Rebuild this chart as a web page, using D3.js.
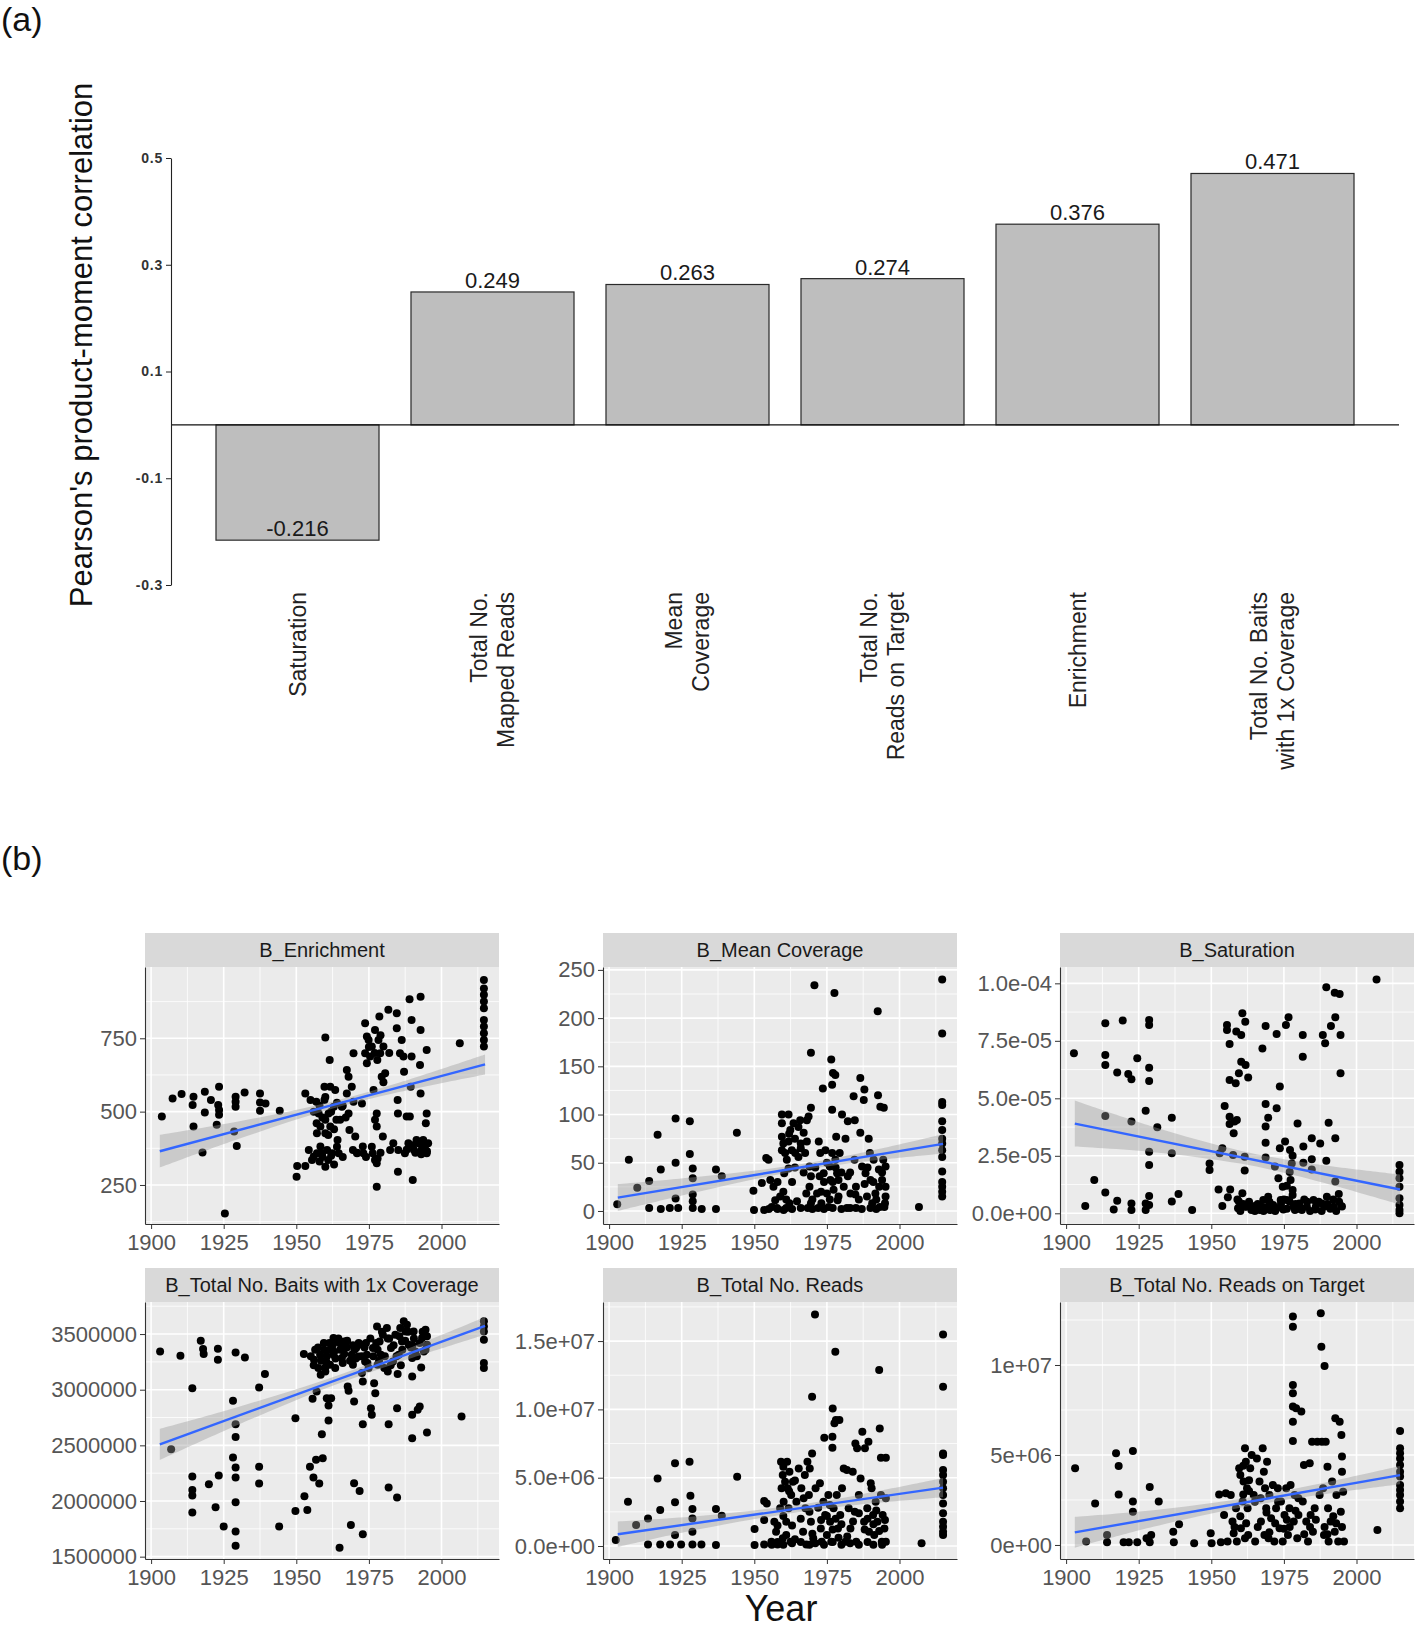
<!DOCTYPE html>
<html><head><meta charset="utf-8">
<script src="https://cdn.jsdelivr.net/npm/d3@7"></script>
<style>body{margin:0;background:#fff} svg{display:block} text{font-family:"Liberation Sans",Arial,Helvetica,sans-serif}</style>
</head><body>
<svg id="chart" width="1418" height="1629"></svg>
<script>
// ---------------- (a) data ----------------
const barCategories = ["Saturation","Total No.\nMapped Reads","Mean\nCoverage","Total No.\nReads on Target","Enrichment","Total No. Baits\nwith 1x Coverage"];
const barValues = [-0.216,0.249,0.263,0.274,0.376,0.471];
const barLabels = ["-0.216","0.249","0.263","0.274","0.376","0.471"];
const barTicks = [0.5,0.3,0.1,-0.1,-0.3];
const barTickLabels = ["0.5","0.3","0.1","-0.1","-0.3"];

// ---------------- (b) data ----------------
const yearTicks = [1900,1925,1950,1975,2000];
const yearMinor = [1912.5,1937.5,1962.5,1987.5,2012.5];
const fitYears = [1903,2015];
const bandYears = [1903,1930,1960,1985,2015];

const enrichmentPts = [[1903.7,483],[1907.4,545],[1910.5,560],[1914.6,551],[1914.3,523],[1914.6,449],[1918.5,568],[1918.5,497],[1917.7,361],[1920.6,540],[1923.4,585],[1923.1,523],[1923.4,506],[1923.4,489],[1922.6,455],[1925.4,153],[1928.6,432],[1929.1,551],[1929.1,534],[1929.1,517],[1929.5,383],[1932.2,565],[1937.5,562],[1937.5,531],[1937.5,503],[1939.4,528],[1944.3,503],
[1950.1,278],[1950.3,315],[1953.1,562],[1953.1,315],[1954.3,369],[1954.9,540],[1955.4,335],[1956,347],[1956.9,534],[1957.1,426],[1957.1,358],[1957.7,494],[1958.3,449],[1958.3,381],[1958.9,358],[1960,753],[1959.7,585],[1959.7,540],[1960,472],[1960,426],[1960,312],[1960.6,369],[1961.1,494],[1961.5,676],[1961.7,585],[1961.7,449],[1962.3,358],[1962.9,517],[1963.4,574],[1963.8,472],[1964.2,403],[1964.6,358],[1965.1,472],[1965.7,517],[1967.4,642],[1968,619],[1967.4,562],[1968,494],[1968.3,437],[1969.1,585],[1969.7,699],[1969.7,534],[1970.3,415],[1969.5,369],[1970.9,358],[1972.6,528],[1972.9,381],[1973.1,358],[1973.7,801],[1973.7,699],[1974.3,756],[1974.3,665],[1975.4,688],[1974.9,744],[1976,722],[1976.3,358],[1976.6,574],[1977.1,778],[1977.1,472],[1977.1,335],[1977.7,494],[1977.7,449],[1977.7,324],[1977.9,676],[1978.6,824],[1978.3,744],[1977.7,244],[1978.9,699],[1979.4,619],[1979.8,415],[1980,722],[1980.6,631],[1981.7,847],[1982.3,369],[1983.4,392],[1984.6,835],[1984.6,784],[1984.9,540],[1985,494],[1985.1,369],[1985,295],[1985.7,699],[1986.3,744],[1986.9,688],[1987.1,636],[1987.4,358],[1988,483],[1988.6,392],[1989,883],[1989.1,483],[1989.4,585],[1989.7,812],[1989.7,688],[1990.1,267],[1990.5,369],[1991.4,403],[1992,392],[1992.8,892],[1992.8,778],[1992.6,659],[1992.8,562],[1993.1,369],[1993.7,403],[1994.3,381],[1994.6,460],[1994.9,710],[1994.9,494],[1994.9,358],[1995.4,392],[2006.3,733],
[1956,500],[1957,460],[1958,520],[1959,480],[1960,550],[1961,420],[1962,500],[1963,440],[1964,530],[1958,330],[1959,345],[1961,335],[1962,350],[1963,320],[1964,380],[1966,345],[1966,520],[1967,480],[1971,360],[1974,345],[1976,380],[1978,340],[1979,360],[1988,370],[1990,385],[1991,360],[1993,355],[1994,375],[1995,365],[1993,390],[1975,720],[1977,700],[1979,760],[1980,600],[1982,700],
[2014.6,949],[2014.6,920],[2014.6,898],[2014.6,875],[2014.6,852],[2014.6,812],[2014.6,790],[2014.6,767],[2014.6,744],[2014.6,722]];

const meanCoveragePts = [[1902.8,7],[1906.8,53],[1909.7,24],[1913.8,31],[1913.8,3],[1916.7,79],[1917.8,43],[1917.8,2],[1920.9,3],[1922.9,96],[1922.9,50],[1922.9,13],[1923.8,3],[1927.8,93],[1927.8,59],[1928.8,44],[1928.8,34],[1928.8,17],[1928.8,3],[1928.8,10],[1931.9,2],[1936.8,43],[1936.8,2],[1938.8,36],[1944,81],[1949.7,21],[1949.9,1],[1952.6,29],[1953.4,1],[1954.1,55],[1954.9,53],[1955.5,32],[1956,4],[1956.6,25],[1957.2,11],[1957.8,3],[1958.9,15],[1959.5,100],[1959.5,91],[1959.5,77],[1959.5,63],[1960.1,1],[1960.3,39],[1960.6,60],[1961.2,53],[1961.8,100],[1961.8,72],[1961.8,44],[1962.1,8],[1962.4,84],[1962.9,63],[1963.5,91],[1964.1,60],[1964.7,10],[1965.2,87],[1965.2,56],[1965.8,94],[1967,81],[1967.5,60],[1967.9,18],[1968.1,94],[1968.1,72],[1968.4,3],[1968.7,98],[1969,46],[1969.5,107],[1969.5,164],[1969.5,36],[1969.5,8],[1970.7,234],[1971.6,18],[1972.2,72],[1972.5,36],[1972.7,60],[1973.1,8],[1973.6,127],[1973.9,39],[1974.5,63],[1975,18],[1975.6,4],[1976,46],[1976.2,32],[1976.5,157],[1976.8,131],[1976.8,105],[1976.8,60],[1977.1,143],[1977.3,22],[1977.6,226],[1977.9,141],[1977.9,53],[1978.2,77],[1978.5,39],[1978.7,11],[1979,32],[1979.4,60],[1980.2,100],[1980.8,25],[1981.4,75],[1981.9,3],[1982.2,93],[1982.2,36],[1983.1,18],[1984.2,119],[1984.5,53],[1984.6,94],[1984.8,17],[1985,3],[1986.5,138],[1986.5,81],[1987.1,46],[1987.7,115],[1987.9,126],[1988.3,39],[1988.8,15],[1989.4,75],[1989.8,60],[1990,32],[1990.6,8],[1991.1,53],[1991.7,18],[1992.5,207],[1992.6,120],[1992.9,43],[1993.2,4],[1993.4,108],[1994,32],[1994.4,53],[1994.6,107],[1994.8,4],[1995.2,46],[1995.2,25],[1995.2,15],[2006.7,4],
[1955,2],[1958,2],[1961,3],[1963,2],[1966,3],[1970,2],[1972,3],[1974,2],[1977,3],[1980,2],[1983,3],[1987,2],[1990,3],[1992,2],
[1958,30],[1960,20],[1961,12],[1963,30],[1964,45],[1966,70],[1967,40],[1969,25],[1970,12],[1971,45],[1973,20],[1974,30],[1975,50],[1976,12],[1977,30],[1978,45],[1979,15],[1980,40],[1983,40],[1985,25],[1986,12],[1988,28],[1989,45],[1991,30],[1992,12],[1993,25],[1994,40],[1995,8],[1960,70],[1962,80],[1964,75],[1966,65],
[2014.7,240],[2014.7,184],[2014.7,113],[2014.7,110],[2014.7,93],[2014.7,84],[2014.7,75],[2014.7,70],[2014.7,63],[2014.7,56],[2014.7,41],[2014.7,30],[2014.7,25],[2014.7,20],[2014.7,15]];

// saturation in units of 1e-5
const saturationPtsE5 = [[1902.7,6.96],[1906.6,0.32],[1909.7,1.45],[1913.5,8.26],[1913.5,6.88],[1913.5,6.45],[1913.5,4.23],[1913.5,0.9],[1916.4,0.17],[1917.6,6.12],[1917.6,0.55],[1919.5,8.38],[1921.4,6.06],[1922.5,5.83],[1922.5,3.99],[1922.5,0.43],[1922.5,0.14],[1924.5,6.74],[1927.4,4.46],[1927.4,0.43],[1927.4,0.14],[1928.6,8.41],[1928.6,8.19],[1928.6,6.33],[1928.6,5.75],[1928.6,2.68],[1928.6,2.10],[1928.6,0.75],[1928.6,0.36],[1931.4,3.74],[1936.4,4.16],[1936.4,2.61],[1936.4,0.51],[1938.7,0.84],[1943.4,0.14],[1949.4,2.17],[1949.4,1.88],[1952.5,1.04],[1952.9,2.61],[1953.8,2.83],[1953.8,0.32],[1954.6,4.67],[1955.4,8.19],[1955.4,7.97],[1955.7,0.7],[1956.3,7.36],[1956.3,5.80],[1956.3,4.20],[1956.3,3.88],[1956.5,1.04],[1957.5,2.54],[1957.7,3.48],[1958,3.99],[1958.4,5.65],[1958.6,7.90],[1958.8,4.06],[1959.2,0.22],[1959.5,6.09],[1959.5,0.51],[1960.3,7.75],[1960.3,6.59],[1960.7,8.70],[1960.7,0.87],[1961.5,1.86],[1961.5,2.46],[1961.7,8.33],[1961.8,6.45],[1961.8,0.29],[1962.7,5.90],[1963.8,0.14],[1965,0.32],[1966.7,0.14],[1967.6,7.17],[1967.9,0.58],[1968.7,8.14],[1968.7,4.75],[1968.7,3.77],[1968.7,3.07],[1968.7,2.43],[1969,0.26],[1969.6,4.16],[1969.6,0.72],[1970.2,0.14],[1971.3,0.36],[1971.9,2.03],[1972.5,7.80],[1972.5,4.57],[1972.5,0.22],[1973.1,1.52],[1973.6,5.51],[1973.6,2.83],[1973.9,0.58],[1974.6,1.16],[1974.8,0.17],[1975.4,3.12],[1975.7,8.19],[1976,0.58],[1976.6,8.52],[1977.1,2.75],[1977.3,1.45],[1977.7,2.17],[1978,1.01],[1978.3,0.29],[1978.8,0.14],[1979.7,3.91],[1980.3,0.43],[1981.2,0.14],[1981.5,7.75],[1981.5,6.81],[1981.7,2.90],[1981.7,2.20],[1982.9,0.29],[1984.6,3.26],[1984.6,2.35],[1984.6,1.91],[1985.2,0.58],[1985.8,0.17],[1987.5,3.04],[1988.1,0.43],[1988.4,7.75],[1989.2,7.39],[1989.6,9.83],[1989.6,2.29],[1989.8,0.72],[1990.4,3.94],[1991.2,8.14],[1992.1,0.29],[1992.5,9.59],[1992.7,8.52],[1992.7,3.26],[1992.7,1.38],[1993.9,0.84],[1994.2,9.54],[1994.5,7.75],[1994.5,6.09],[1994.7,0.32],[2006.9,10.17],
[1960,0.1],[1962,0.3],[1964,0.2],[1966,0.4],[1968,0.1],[1971,0.3],[1974,0.4],[1976,0.2],[1979,0.4],[1981,0.2],[1983,0.5],[1986,0.3],[1988,0.1],[1990,0.4],[1991,0.2],[1993,0.1],[1995,0.3],
[1959,0.6],[1961,0.4],[1963,0.5],[1965,0.1],[1967,0.3],[1970,0.5],[1972,0.1],[1975,0.6],[1977,0.5],[1978,0.8],[1980,0.2],[1982,0.6],[1984,0.1],[1987,0.5],[1989,0.3],[1992,0.6],[1994,0.5],[1976,1.2],[1977,1.8],[1978,2.5],
[2014.8,2.10],[2014.8,1.81],[2014.8,1.52],[2014.8,1.16],[2014.8,0.65],[2014.8,0.36],[2014.8,0.14],[2014.8,0]];

// baits in millions
const baitsPtsM = [[1903.1,3.344],[1906.9,2.466],[1910.1,3.305],[1914.2,3.014],[1914.2,2.220],[1914.2,2.100],[1914.2,2.049],[1914.2,1.896],[1917.1,3.440],[1917.9,3.365],[1918.1,3.320],[1919.9,2.151],[1922.2,1.944],[1923,3.368],[1923,3.269],[1923.3,2.229],[1925,1.770],[1928.2,2.900],[1929.1,3.335],[1929.1,2.690],[1929.1,2.576],[1928.2,2.391],[1929.1,2.301],[1929.1,2.211],[1929.1,1.989],[1929.1,1.725],[1929.1,1.599],[1932.3,3.290],[1937.2,3.020],[1937.2,2.307],[1937.2,2.157],[1939.2,3.140],[1944.1,1.770],[1949.7,2.744],[1949.7,1.911],[1952.8,2.043],[1952.6,3.320],[1953.8,1.920],[1954.7,2.307],[1955.6,2.918],[1955.9,2.211],[1956.1,3.269],[1956.5,3.359],[1956.8,2.370],[1957,2.984],[1957.6,3.194],[1957.9,2.157],[1958.2,3.314],[1958.4,3.134],[1958.8,2.600],[1959.1,2.385],[1959.6,3.359],[1960,3.164],[1960.3,3.254],[1960.5,2.924],[1961.1,2.858],[1961.1,2.723],[1961.4,3.419],[1961.6,3.224],[1962,2.924],[1962.8,3.464],[1962.8,3.314],[1963.4,3.194],[1964.2,3.428],[1964.9,1.581],[1965.1,3.359],[1965.7,3.284],[1966.5,3.434],[1967.4,3.380],[1967.7,3.029],[1968,2.990],[1968.8,1.785],[1969.1,3.314],[1969.5,3.224],[1969.9,2.160],[1969.9,2.894],[1970.6,3.374],[1971.4,3.299],[1971.8,2.091],[1972.6,3.404],[1972.6,3.149],[1972.9,3.074],[1972.9,1.701],[1972.9,2.690],[1973.7,3.254],[1974.3,3.314],[1974.9,3.194],[1975.7,2.834],[1976,2.774],[1976.4,3.374],[1976.8,3.059],[1977.2,2.969],[1977.8,3.569],[1978,3.224],[1978.7,3.434],[1979.1,3.314],[1979.8,3.494],[1980.3,3.194],[1981.2,3.554],[1981.5,3.164],[1981.8,2.690],[1981.8,2.121],[1982.6,3.374],[1983.3,3.254],[1984.1,3.494],[1984.7,2.834],[1984.7,2.031],[1984.9,3.140],[1985.3,3.314],[1985.8,3.554],[1986.4,3.434],[1987,3.614],[1987.6,3.524],[1988.1,3.584],[1988.7,3.404],[1989.9,3.284],[1989.9,3.119],[1989.9,2.774],[1989.9,2.564],[1990.4,3.524],[1991,3.344],[1991.8,2.819],[1992.5,2.849],[1993,3.200],[1993.3,3.464],[1993.9,3.344],[1994.5,3.539],[1995,2.615],[1995,3.404],[2006.9,2.759],
[1955,3.30],[1956,3.22],[1957.5,3.38],[1958.5,3.26],[1959.5,3.42],[1960.5,3.30],[1961.5,3.36],[1962.5,3.40],[1963.5,3.28],[1964.5,3.46],[1965.5,3.40],[1966.5,3.32],[1967.5,3.44],[1968.5,3.26],[1969.5,3.40],[1970.5,3.28],[1971.5,3.42],[1972.5,3.30],[1973.5,3.38],[1974.5,3.24],[1975.5,3.46],[1976.5,3.30],[1977.5,3.42],[1978.5,3.26],[1979.5,3.52],[1980.5,3.30],[1981.5,3.46],[1982.5,3.22],[1983.5,3.40],[1984.5,3.30],[1985.5,3.48],[1986.5,3.36],[1987.5,3.44],[1988.5,3.52],[1989.5,3.38],[1990.5,3.46],[1991.5,3.30],[1992.5,3.42],[1993.5,3.52],[1994.5,3.36],[1995,3.48],[1960,3.20],[1963,3.34],[1966,3.24],[1970,3.36],[1974,3.42],[1978,3.36],[1982,3.46],[1986,3.22],[1990,3.40],
[2014.6,3.614],[2014.6,3.569],[2014.6,3.524],[2014.6,3.449],[2014.6,3.239],[2014.6,3.194]];

// total reads in millions
const readsPtsM = [[1902.3,0.44],[1906.5,3.24],[1909.3,1.54],[1913.4,2.02],[1913.4,0.12],[1916.7,4.95],[1917.6,2.63],[1917.6,0.12],[1921,0.12],[1922.7,6.05],[1922.7,3.20],[1922.7,0.80],[1924.8,0.12],[1927.7,6.17],[1928,3.68],[1928.7,2.71],[1928.7,2.02],[1928.7,1.05],[1928.7,0.12],[1931.8,0.12],[1936.8,2.71],[1936.8,0.07],[1938.8,2.22],[1944.1,5.07],[1950.1,1.24],[1950.1,0.07],[1953.4,3.29],[1953.4,0.12],[1954.3,3.12],[1953.4,1.90],[1955.9,0.32],[1956.9,1.78],[1957.5,1.05],[1958,0.12],[1958.9,2.76],[1959.2,6.17],[1959.4,4.22],[1959.8,5.20],[1959.8,0.56],[1960.1,3.24],[1960.6,4.71],[1961,1.78],[1961.3,6.17],[1961.5,4.22],[1961.8,2.76],[1962.1,5.44],[1962.5,0.32],[1962.7,3.73],[1963.3,4.71],[1964.5,3.24],[1965.3,5.68],[1966.2,4.22],[1966.8,1.05],[1967.4,5.20],[1967.6,2.76],[1967.9,0.12],[1968.3,6.17],[1968.8,3.73],[1969.1,5.68],[1969.5,1.78],[1969.9,6.78],[1969.9,10.93],[1970.3,0.56],[1970.9,16.95],[1971.1,4.22],[1972.6,4.59],[1972.9,1.29],[1973.2,0.32],[1973.8,3.24],[1974.1,7.93],[1974.4,2.27],[1975,0.80],[1975.5,3.73],[1976.1,1.78],[1976.5,0.32],[1976.9,7.20],[1976.9,8.00],[1977,10.07],[1977.3,2.76],[1977.6,8.98],[1977.9,14.22],[1978.1,9.22],[1978.4,3.73],[1978.8,1.29],[1979.3,9.22],[1979.6,2.27],[1980.2,4.22],[1980.8,5.68],[1981.4,0.32],[1981.9,5.56],[1982.5,2.76],[1983.1,1.29],[1983.9,5.44],[1984.6,2.51],[1984.8,7.51],[1985.1,0.32],[1985.4,7.15],[1986,3.73],[1986.6,4.95],[1987.2,8.37],[1987.8,1.78],[1988.1,7.15],[1988.9,2.76],[1989.3,7.63],[1989.5,1.05],[1990.1,4.59],[1990.4,4.22],[1990.9,2.27],[1991.3,0.80],[1991.8,3.24],[1992.4,1.78],[1993,12.88],[1993.2,8.61],[1993.6,6.46],[1993.6,3.73],[1993.9,0.32],[1994.2,2.27],[1994.8,1.29],[1995.3,6.46],[1995.3,0.32],[1995.3,3.49],[2007.6,0.20],
[1956,0.1],[1958,0.3],[1960,0.1],[1963,0.2],[1966,0.3],[1969,0.1],[1971,0.2],[1974,0.1],[1977,0.3],[1980,0.1],[1983,0.2],[1986,0.1],[1989,0.3],[1991,0.1],[1994,0.1],
[1958,1.5],[1960,2.2],[1961,0.8],[1963,1.5],[1964,0.5],[1966,2.0],[1967,3.5],[1969,2.5],[1970,0.9],[1972,2.8],[1973,1.9],[1975,2.2],[1976,3.0],[1977,1.2],[1978,2.0],[1979,0.6],[1980,1.6],[1982,0.7],[1984,1.8],[1986,2.4],[1988,1.2],[1989,2.0],[1991,1.6],[1992,2.6],[1993,1.1],[1995,1.9],[1960,5.8],[1962,4.0],[1964,4.8],
[2015,15.49],[2015,11.66],[2015,6.78],[2015,6.66],[2015,5.56],[2015,5.20],[2015,4.71],[2015,4.22],[2015,3.73],[2015,3.12],[2015,2.39],[2015,1.78],[2015,1.41],[2015,1.05],[2015,0.80]];

// reads on target in millions
const targetPtsM = [[1903.1,4.26],[1906.9,0.19],[1910,2.31],[1914.1,0.56],[1914.1,0.15],[1917.2,5.09],[1918.1,4.39],[1918.1,2.81],[1919.8,0.15],[1921.6,0.15],[1923,5.22],[1923,2.41],[1923,1.85],[1924.5,0.15],[1927.7,0.37],[1928.8,3.22],[1928.8,0.15],[1929.3,0.56],[1931.9,2.41],[1936.9,0.74],[1937.1,0.15],[1938.9,1.15],[1944.1,0.09],[1949.8,0.65],[1950.1,0.09],[1952.7,2.81],[1953.3,0.15],[1954.4,1.67],[1955,2.87],[1955.6,0.19],[1956.7,2.78],[1957.3,1.30],[1957.7,0.65],[1958.5,2.04],[1958.8,0.19],[1959.6,4.26],[1960,3.89],[1960.2,0.93],[1960.8,2.41],[1961.1,3.52],[1961.6,5.37],[1961.6,0.37],[1961.9,4.63],[1962.3,3.15],[1962.5,2.04],[1962.7,0.56],[1963.4,4.26],[1963.9,5.00],[1964.6,2.78],[1965.1,0.19],[1965.7,4.81],[1966.6,3.52],[1967.1,1.30],[1967.7,5.37],[1968.1,4.07],[1968.3,0.56],[1968.5,3.15],[1968.9,2.04],[1969.2,4.63],[1969.7,0.37],[1970,2.78],[1970.6,1.48],[1971.2,3.33],[1971.7,0.19],[1972.3,2.04],[1972.9,3.15],[1973.5,0.93],[1974,2.41],[1974.6,0.19],[1975.2,1.67],[1975.8,3.15],[1976.4,0.56],[1976.9,2.04],[1977.3,3.33],[1978.1,12.69],[1978.1,12.13],[1978.1,8.89],[1978.1,8.43],[1978.1,7.69],[1978.1,6.85],[1978.1,5.78],[1978.4,1.30],[1978.7,2.78],[1979.2,7.59],[1979.6,0.37],[1980,1.67],[1981,7.41],[1981.5,2.41],[1981.9,4.44],[1982.7,1.30],[1983.3,0.19],[1983.9,4.54],[1984.2,1.67],[1984.7,5.74],[1985,0.74],[1985.6,2.04],[1986.5,5.74],[1987.3,2.78],[1987.7,12.87],[1987.9,11.02],[1988.1,5.74],[1988.5,3.15],[1988.8,0.56],[1989,9.94],[1989.4,5.74],[1990,4.35],[1990.2,2.04],[1990.4,0.19],[1991.1,1.30],[1991.6,3.52],[1992.5,0.74],[1992.7,7.04],[1993.1,2.78],[1993.7,0.19],[1994.2,6.85],[1994.6,1.85],[1994.8,6.11],[1995,4.91],[1995,4.07],[1995.4,2.96],[1995.7,0.19],[2007.2,0.83],
[1958,1.0],[1960,1.6],[1961,2.8],[1962,1.2],[1963,3.0],[1965,2.4],[1966,1.0],[1967,2.6],[1969,1.8],[1970,0.7],[1972,1.2],[1973,2.4],[1975,0.9],[1976,1.4],[1977,1.0],[1979,1.9],[1980,2.6],[1982,0.6],[1984,1.0],[1986,1.4],[1989,1.0],[1990,0.6],[1992,1.6],[1993,1.2],[1995,1.0],[1961,4.4],[1963,3.6],
[2015,6.33],[2015,5.37],[2015,5.09],[2015,4.81],[2015,4.44],[2015,4.07],[2015,3.80],[2015,3.33],[2015,3.06],[2015,2.78],[2015,2.41],[2015,2.04]];

// axis domains and ticks (same units as the point arrays)
const enrichmentDomain = [117,993];
const enrichmentTicks = [250,500,750];
const enrichmentTickLabels = ["250","500","750"];
const enrichmentFit = [365,661];
const enrichmentBand = [56,30,13,16,34];

const meanCoverageDomain = [-13.5,253];
const meanCoverageTicks = [0,50,100,150,200,250];
const meanCoverageTickLabels = ["0","50","100","150","200","250"];
const meanCoverageFit = [13.9,69.6];
const meanCoverageBand = [14,8,3.5,4.5,10];

const saturationDomain = [-0.465,10.71];
const saturationTicks = [0,2.5,5,7.5,10];
const saturationTickLabels = ["0.0e+00","2.5e-05","5.0e-05","7.5e-05","1.0e-04"];
const saturationFit = [3.90,1.035];
const saturationBand = [1.0,0.55,0.28,0.35,0.65];

const baitsDomain = [1.479,3.788];
const baitsTicks = [1.5,2,2.5,3,3.5];
const baitsTickLabels = ["1500000","2000000","2500000","3000000","3500000"];
const baitsFit = [2.509,3.573];
const baitsBand = [0.14,0.08,0.04,0.045,0.08];

const readsDomain = [-0.95,17.86];
const readsTicks = [0,5,10,15];
const readsTickLabels = ["0.0e+00","5.0e+06","1.0e+07","1.5e+07"];
const readsFit = [0.86,4.27];
const readsBand = [0.94,0.5,0.28,0.35,0.7];

const targetDomain = [-0.78,13.5];
const targetTicks = [0,5,10];
const targetTickLabels = ["0e+00","5e+06","1e+07"];
const targetFit = [0.70,3.88];
const targetBand = [0.86,0.46,0.25,0.3,0.51];

const panelTitles = ["B_Enrichment","B_Mean Coverage","B_Saturation","B_Total No. Baits with 1x Coverage","B_Total No. Reads","B_Total No. Reads on Target"];

// ---------------- drawing ----------------
const svg = d3.select("#chart");
svg.append("rect").attr("width",1418).attr("height",1629).attr("fill","#fff");

svg.append("text").attr("x",1).attr("y",31).attr("font-size",34).attr("fill","#111").text("(a)");
svg.append("text").attr("x",1).attr("y",870).attr("font-size",34).attr("fill","#111").text("(b)");

// (a) bar chart
const xA = d3.scaleBand().domain(barCategories).range([200,1370]).paddingInner(0.164).paddingOuter(0.082);
const yA = d3.scaleLinear().domain([-0.3,0.5]).range([585,158]);
const gA = svg.append("g");

gA.selectAll("rect.bar").data(barValues).join("rect").attr("class","bar")
  .attr("x",(d,i)=>xA(barCategories[i]))
  .attr("y",d=>yA(Math.max(0,d)))
  .attr("width",xA.bandwidth())
  .attr("height",d=>Math.abs(yA(d)-yA(0)))
  .attr("fill","#bebebe").attr("stroke","#2a2a2a").attr("stroke-width",1.2);

gA.append("line").attr("x1",171).attr("x2",1399).attr("y1",yA(0)).attr("y2",yA(0))
  .attr("stroke","#111").attr("stroke-width",1.1);

gA.selectAll("text.val").data(barValues).join("text").attr("class","val")
  .attr("x",(d,i)=>xA(barCategories[i])+xA.bandwidth()/2)
  .attr("y",d=>yA(d)-4)
  .attr("text-anchor","middle").attr("font-size",22).attr("fill","#1a1a1a")
  .text((d,i)=>barLabels[i]);

const axA = d3.axisLeft(yA).tickValues(barTicks).tickFormat((d,i)=>barTickLabels[i]).tickSize(5).tickSizeOuter(0).tickPadding(3);
const gAx = gA.append("g").attr("transform","translate(171,0)").call(axA);
gAx.select(".domain").attr("stroke","#222").attr("stroke-width",1.1);
gAx.selectAll(".tick line").attr("stroke","#222");
gAx.selectAll(".tick text").attr("font-size",14).attr("font-weight","bold").attr("letter-spacing","0.8px").attr("fill","#333").attr("font-family","Liberation Sans, Arial, sans-serif");

gA.append("text").attr("transform","translate(92,345) rotate(-90)")
  .attr("text-anchor","middle").attr("font-size",31).attr("fill","#111")
  .text("Pearson's product-moment correlation");

barCategories.forEach((cat,i)=>{
  const lines = cat.split("\n");
  const cx = xA(cat)+xA.bandwidth()/2;
  lines.forEach((ln,j)=>{
    const bx = cx + 8 + (j-(lines.length-1)/2)*27.5;
    gA.append("text").attr("transform",`translate(${bx},592) rotate(-90)`)
      .attr("text-anchor","end").attr("font-size",23).attr("fill","#222").text(ln);
  });
});

// (b) facets
const yearDomain = [1897.9,2019.8];
const cols = [145,603,1060], rows = [967,1302];
const pw = 354, ph = 257, stripH = 34;

const panels = [
  {pts:enrichmentPts, dom:enrichmentDomain, ticks:enrichmentTicks, labels:enrichmentTickLabels, fit:enrichmentFit, band:enrichmentBand},
  {pts:meanCoveragePts, dom:meanCoverageDomain, ticks:meanCoverageTicks, labels:meanCoverageTickLabels, fit:meanCoverageFit, band:meanCoverageBand},
  {pts:saturationPtsE5, dom:saturationDomain, ticks:saturationTicks, labels:saturationTickLabels, fit:saturationFit, band:saturationBand},
  {pts:baitsPtsM, dom:baitsDomain, ticks:baitsTicks, labels:baitsTickLabels, fit:baitsFit, band:baitsBand},
  {pts:readsPtsM, dom:readsDomain, ticks:readsTicks, labels:readsTickLabels, fit:readsFit, band:readsBand},
  {pts:targetPtsM, dom:targetDomain, ticks:targetTicks, labels:targetTickLabels, fit:targetFit, band:targetBand}
];

panels.forEach((p,k)=>{
  const c = k%3, r = Math.floor(k/3);
  const x0 = cols[c], y0 = rows[r];
  const x = d3.scaleLinear().domain(yearDomain).range([x0,x0+pw]);
  const y = d3.scaleLinear().domain(p.dom).range([y0+ph,y0]);
  const g = svg.append("g");

  g.append("rect").attr("x",x0).attr("y",y0-stripH).attr("width",pw).attr("height",stripH).attr("fill","#d9d9d9");
  g.append("text").attr("x",x0+pw/2).attr("y",y0-stripH/2+7).attr("text-anchor","middle")
    .attr("font-size",20).attr("fill","#1a1a1a").text(panelTitles[k]);

  g.append("rect").attr("x",x0).attr("y",y0).attr("width",pw).attr("height",ph).attr("fill","#ebebeb");

  const step = p.ticks[1]-p.ticks[0];
  const yMinor = [];
  for (let t=p.ticks[0]-step/2; t<=p.dom[1]; t+=step) if (t>=p.dom[0]) yMinor.push(t);
  g.selectAll("line.ymin").data(yMinor).join("line").attr("x1",x0).attr("x2",x0+pw)
    .attr("y1",d=>y(d)).attr("y2",d=>y(d)).attr("stroke","#fff").attr("stroke-width",0.8);
  g.selectAll("line.xmin").data(yearMinor).join("line").attr("y1",y0).attr("y2",y0+ph)
    .attr("x1",d=>x(d)).attr("x2",d=>x(d)).attr("stroke","#fff").attr("stroke-width",0.8);
  g.selectAll("line.ymaj").data(p.ticks).join("line").attr("x1",x0).attr("x2",x0+pw)
    .attr("y1",d=>y(d)).attr("y2",d=>y(d)).attr("stroke","#fff").attr("stroke-width",1.6);
  g.selectAll("line.xmaj").data(yearTicks).join("line").attr("y1",y0).attr("y2",y0+ph)
    .attr("x1",d=>x(d)).attr("x2",d=>x(d)).attr("stroke","#fff").attr("stroke-width",1.6);

  g.selectAll("circle").data(p.pts).join("circle")
    .attr("cx",d=>x(d[0])).attr("cy",d=>y(d[1])).attr("r",4).attr("fill","#000");

  const fitLine = d3.scaleLinear().domain(fitYears).range(p.fit);
  const area = d3.area().curve(d3.curveCatmullRom)
    .x((d,i)=>x(bandYears[i]))
    .y0((d,i)=>y(fitLine(bandYears[i])-d))
    .y1((d,i)=>y(fitLine(bandYears[i])+d));
  g.append("path").datum(p.band).attr("d",area).attr("fill","#999").attr("fill-opacity",0.4);
  g.append("path").datum(fitYears).attr("d",d3.line().x(d=>x(d)).y(d=>y(fitLine(d))))
    .attr("stroke","#3366ff").attr("stroke-width",2.4).attr("fill","none");

  const ay = d3.axisLeft(y).tickValues(p.ticks).tickFormat((d,i)=>p.labels[i]).tickSize(5).tickSizeOuter(0).tickPadding(3);
  const gy = g.append("g").attr("transform",`translate(${x0},0)`).call(ay);
  const ax = d3.axisBottom(x).tickValues(yearTicks).tickFormat(d=>String(d)).tickSize(5).tickSizeOuter(0).tickPadding(5);
  const gx = g.append("g").attr("transform",`translate(0,${y0+ph})`).call(ax);
  [gy,gx].forEach(a=>{
    a.select(".domain").attr("stroke","#333").attr("stroke-width",1.1);
    a.selectAll(".tick line").attr("stroke","#333");
    a.selectAll(".tick text").attr("font-size",22).attr("fill","#555").attr("font-family","Liberation Sans, Arial, sans-serif");
  });
});

svg.append("text").attr("x",781).attr("y",1621).attr("text-anchor","middle").attr("font-size",36).attr("fill","#111").text("Year");
</script>
</body></html>
